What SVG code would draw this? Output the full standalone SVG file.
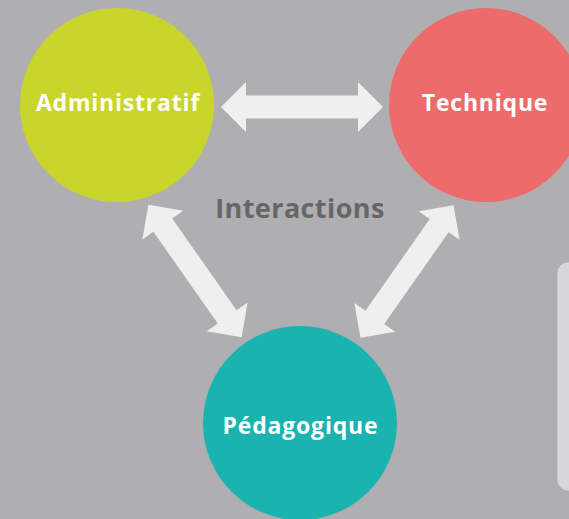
<svg xmlns="http://www.w3.org/2000/svg" width="569" height="519" viewBox="0 0 569 519">
<style>
.lbl{font-family:"Open Sans","DejaVu Sans",sans-serif;font-weight:700;font-size:23px;fill:#ffffff;text-anchor:middle;letter-spacing:0.8px}
.title{font-family:"Open Sans","DejaVu Sans",sans-serif;font-weight:700;font-size:27px;fill:#666666;text-anchor:middle;letter-spacing:0.4px}
.arrow{fill:#efefef}
</style>
<defs>
<path id="dbl" d="M-81,0 L-56,-25 L-56,-11.5 L56,-11.5 L56,-25 L81,0 L56,25 L56,11.5 L-56,11.5 L-56,25 Z"/>
</defs>
<rect x="0" y="0" width="569" height="519" fill="#afafb1"/>
<g id="box">
<rect x="558" y="263" width="30" height="227" rx="10" fill="#d7d6d9" stroke="#dededf" stroke-width="1"/>
</g>
<g id="connectors" class="arrow">
<use href="#dbl" transform="translate(302,107)"/>
<use href="#dbl" transform="translate(195,271) rotate(54.9)"/>
<use href="#dbl" transform="translate(407,271.5) rotate(-54.9)"/>
</g>
<g id="administratif">
<circle cx="117" cy="105" r="97" fill="#c9d52b"/>
<text class="lbl" x="118" y="111">Administratif</text>
</g>
<g id="technique">
<circle cx="486" cy="105" r="97" fill="#ee6b6b"/>
<text class="lbl" x="485" y="111">Technique</text>
</g>
<g id="pedagogique">
<circle cx="300" cy="423" r="97" fill="#1ab3b0"/>
<text class="lbl" x="300.5" y="434">Pédagogique</text>
</g>
<g id="title">
<text class="title" x="300" y="218">Interactions</text>
</g>
</svg>
